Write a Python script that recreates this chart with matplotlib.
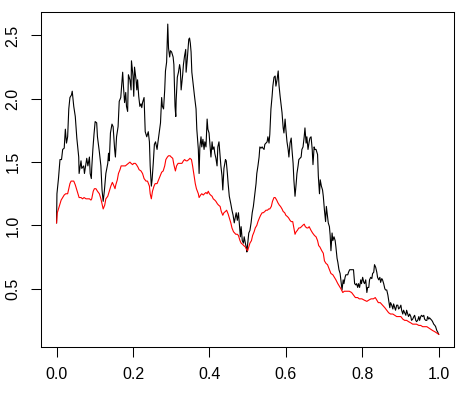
import matplotlib
matplotlib.use("Agg")
import matplotlib.pyplot as plt

# black path
black_t = [0.000, 0.001, 0.005, 0.009, 0.013, 0.016, 0.020, 0.023, 0.026, 0.029,
           0.032, 0.035, 0.039, 0.041, 0.045, 0.049, 0.053, 0.058, 0.059, 0.064,
           0.066, 0.071, 0.073, 0.077, 0.079, 0.082, 0.086, 0.088, 0.091, 0.092,
           0.095, 0.098, 0.101, 0.105, 0.107, 0.112, 0.116, 0.119, 0.122, 0.125,
           0.129, 0.134, 0.136, 0.138, 0.141, 0.145, 0.148, 0.152, 0.154, 0.157,
           0.161, 0.164, 0.168, 0.173, 0.175, 0.178, 0.181, 0.183, 0.186, 0.188,
           0.192, 0.195, 0.196, 0.200, 0.202, 0.204, 0.208, 0.210, 0.212, 0.215,
           0.218, 0.221, 0.223, 0.225, 0.229, 0.230, 0.232, 0.236, 0.240, 0.243,
           0.245, 0.248, 0.250, 0.253, 0.256, 0.259, 0.263, 0.265, 0.269, 0.272,
           0.275, 0.277, 0.280, 0.283, 0.285, 0.288, 0.291, 0.293, 0.296, 0.298,
           0.301, 0.305, 0.307, 0.310, 0.312, 0.313, 0.316, 0.319, 0.322, 0.324,
           0.326, 0.330, 0.332, 0.335, 0.338, 0.339, 0.342, 0.346, 0.348, 0.350,
           0.352, 0.354, 0.358, 0.361, 0.365, 0.367, 0.371, 0.373, 0.375, 0.378,
           0.380, 0.383, 0.386, 0.388, 0.391, 0.394, 0.396, 0.399, 0.401, 0.404,
           0.407, 0.409, 0.412, 0.414, 0.417, 0.420, 0.422, 0.425, 0.428, 0.430,
           0.433, 0.435, 0.438, 0.442, 0.444, 0.447, 0.449, 0.452, 0.456, 0.459,
           0.462, 0.465, 0.468, 0.470, 0.473, 0.476, 0.478, 0.481, 0.483, 0.486,
           0.489, 0.491, 0.494, 0.497, 0.498, 0.501, 0.503, 0.506, 0.509, 0.512,
           0.515, 0.518, 0.522, 0.524, 0.527, 0.530, 0.532, 0.535, 0.538, 0.540,
           0.543, 0.545, 0.548, 0.551, 0.553, 0.556, 0.558, 0.561, 0.564, 0.566,
           0.569, 0.572, 0.574, 0.577, 0.580, 0.582, 0.585, 0.587, 0.590, 0.593,
           0.595, 0.598, 0.600, 0.603, 0.606, 0.608, 0.611, 0.614, 0.616, 0.619,
           0.621, 0.624, 0.627, 0.629, 0.632, 0.634, 0.637, 0.640, 0.642, 0.645,
           0.648, 0.650, 0.653, 0.655, 0.658, 0.661, 0.663, 0.666, 0.669, 0.671,
           0.674, 0.676, 0.679, 0.683, 0.685, 0.688, 0.690, 0.693, 0.696, 0.698,
           0.701, 0.704, 0.706, 0.709, 0.711, 0.714, 0.716, 0.718, 0.721, 0.723,
           0.726, 0.729, 0.731, 0.734, 0.736, 0.739, 0.742, 0.744, 0.747, 0.750,
           0.752, 0.755, 0.757, 0.762, 0.764, 0.767, 0.771, 0.775, 0.777, 0.780,
           0.783, 0.785, 0.788, 0.790, 0.793, 0.796, 0.798, 0.801, 0.804, 0.806,
           0.809, 0.812, 0.814, 0.817, 0.819, 0.822, 0.825, 0.827, 0.830, 0.832,
           0.835, 0.838, 0.840, 0.843, 0.846, 0.848, 0.851, 0.853, 0.856, 0.859,
           0.861, 0.864, 0.867, 0.869, 0.872, 0.874, 0.877, 0.880, 0.882, 0.885,
           0.887, 0.890, 0.893, 0.895, 0.898, 0.901, 0.903, 0.906, 0.908, 0.911,
           0.914, 0.916, 0.919, 0.921, 0.924, 0.927, 0.929, 0.932, 0.935, 0.937,
           0.940, 0.942, 0.945, 0.948, 0.950, 0.953, 0.955, 0.958, 0.961, 0.963,
           0.966, 0.969, 0.971, 0.974, 0.976, 0.979, 0.982, 0.984, 0.987, 0.990,
           0.992, 0.995, 0.997, 1.000]
black_v = [1.02, 1.25, 1.37, 1.52, 1.52, 1.60, 1.61, 1.76, 1.65, 1.70,
           1.92, 2.01, 2.03, 2.06, 1.94, 1.86, 1.69, 1.54, 1.41, 1.51,
           1.45, 1.47, 1.41, 1.49, 1.53, 1.47, 1.54, 1.41, 1.37, 1.45,
           1.60, 1.72, 1.82, 1.81, 1.70, 1.58, 1.47, 1.28, 1.19, 1.27,
           1.41, 1.49, 1.57, 1.51, 1.73, 1.80, 1.78, 1.60, 1.54, 1.70,
           1.78, 1.98, 2.01, 2.21, 2.10, 1.97, 2.05, 1.94, 1.90, 2.19,
           2.15, 2.07, 2.30, 2.18, 2.02, 2.25, 2.15, 2.07, 2.15, 2.02,
           1.94, 1.96, 1.93, 1.97, 2.01, 1.92, 1.74, 1.70, 1.74, 1.66,
           1.47, 1.31, 1.36, 1.49, 1.64, 1.66, 1.60, 1.65, 1.74, 1.81,
           2.01, 1.94, 1.92, 2.07, 2.22, 2.29, 2.59, 2.40, 2.33, 2.38,
           2.37, 2.33, 2.27, 1.94, 1.86, 1.99, 2.17, 2.21, 2.27, 2.23,
           2.07, 2.19, 2.27, 2.34, 2.39, 2.21, 2.31, 2.47, 2.48, 2.44,
           2.37, 2.21, 2.10, 2.02, 1.92, 1.76, 1.60, 1.41, 1.62, 1.70,
           1.62, 1.68, 1.60, 1.66, 1.62, 1.84, 1.76, 1.73, 1.65, 1.54,
           1.66, 1.60, 1.62, 1.57, 1.53, 1.47, 1.62, 1.66, 1.54, 1.47,
           1.39, 1.28, 1.45, 1.52, 1.51, 1.41, 1.33, 1.23, 1.17, 1.12,
           1.08, 1.02, 1.07, 1.10, 1.04, 1.10, 1.02, 0.91, 0.99, 0.88,
           0.86, 0.91, 0.86, 0.82, 0.79, 0.88, 0.94, 0.96, 1.02, 1.10,
           1.15, 1.23, 1.33, 1.41, 1.47, 1.54, 1.62, 1.61, 1.62, 1.61,
           1.60, 1.64, 1.65, 1.66, 1.70, 1.65, 1.72, 1.92, 2.02, 2.10,
           2.17, 2.18, 2.10, 2.15, 2.22, 2.11, 2.02, 1.97, 1.89, 1.77,
           1.73, 1.84, 1.76, 1.66, 1.60, 1.54, 1.65, 1.69, 1.60, 1.49,
           1.36, 1.23, 1.33, 1.41, 1.47, 1.52, 1.53, 1.54, 1.60, 1.62,
           1.70, 1.77, 1.65, 1.70, 1.60, 1.66, 1.69, 1.70, 1.60, 1.48,
           1.62, 1.60, 1.60, 1.56, 1.39, 1.25, 1.36, 1.31, 1.28, 1.23,
           1.12, 1.03, 1.15, 1.07, 1.02, 0.99, 0.92, 0.80, 0.94, 0.88,
           0.91, 0.88, 0.83, 0.74, 0.71, 0.65, 0.62, 0.57, 0.49, 0.57,
           0.54, 0.59, 0.61, 0.61, 0.63, 0.65, 0.65, 0.65, 0.65, 0.54,
           0.53, 0.54, 0.51, 0.54, 0.51, 0.57, 0.54, 0.59, 0.55, 0.54,
           0.57, 0.47, 0.51, 0.51, 0.57, 0.59, 0.58, 0.62, 0.63, 0.69,
           0.67, 0.63, 0.59, 0.57, 0.59, 0.55, 0.58, 0.57, 0.54, 0.50,
           0.49, 0.49, 0.45, 0.41, 0.35, 0.39, 0.37, 0.34, 0.38, 0.35,
           0.33, 0.37, 0.37, 0.34, 0.35, 0.37, 0.33, 0.30, 0.33, 0.31,
           0.29, 0.33, 0.30, 0.28, 0.30, 0.28, 0.25, 0.26, 0.28, 0.29,
           0.25, 0.24, 0.25, 0.28, 0.25, 0.28, 0.29, 0.28, 0.29, 0.26,
           0.25, 0.25, 0.28, 0.26, 0.27, 0.26, 0.25, 0.24, 0.22, 0.21,
           0.20, 0.17, 0.16, 0.14]

# red, smoother path
red_t = [0.000, 0.002, 0.005, 0.009, 0.012, 0.016, 0.020, 0.024, 0.029, 0.032,
         0.035, 0.038, 0.042, 0.045, 0.049, 0.052, 0.056, 0.059, 0.064, 0.068,
         0.072, 0.077, 0.081, 0.086, 0.090, 0.092, 0.096, 0.099, 0.103, 0.107,
         0.112, 0.116, 0.119, 0.122, 0.126, 0.129, 0.134, 0.138, 0.142, 0.146,
         0.149, 0.153, 0.155, 0.159, 0.162, 0.166, 0.169, 0.175, 0.180, 0.184,
         0.188, 0.192, 0.195, 0.199, 0.202, 0.206, 0.209, 0.213, 0.216, 0.221,
         0.225, 0.229, 0.234, 0.238, 0.243, 0.245, 0.248, 0.251, 0.255, 0.258,
         0.263, 0.267, 0.271, 0.275, 0.279, 0.283, 0.286, 0.290, 0.293, 0.297,
         0.300, 0.304, 0.307, 0.311, 0.314, 0.318, 0.321, 0.325, 0.328, 0.332,
         0.335, 0.339, 0.342, 0.346, 0.349, 0.353, 0.356, 0.360, 0.363, 0.366,
         0.371, 0.373, 0.377, 0.380, 0.384, 0.387, 0.391, 0.394, 0.397, 0.400,
         0.403, 0.407, 0.410, 0.414, 0.417, 0.421, 0.424, 0.428, 0.431, 0.435,
         0.438, 0.442, 0.445, 0.449, 0.452, 0.456, 0.459, 0.463, 0.466, 0.469,
         0.473, 0.476, 0.480, 0.483, 0.487, 0.490, 0.494, 0.497, 0.500, 0.503,
         0.506, 0.510, 0.513, 0.517, 0.520, 0.524, 0.527, 0.531, 0.534, 0.538,
         0.541, 0.545, 0.548, 0.552, 0.555, 0.558, 0.562, 0.565, 0.569, 0.572,
         0.576, 0.579, 0.583, 0.586, 0.590, 0.593, 0.597, 0.600, 0.604, 0.607,
         0.611, 0.614, 0.618, 0.621, 0.624, 0.627, 0.630, 0.634, 0.637, 0.641,
         0.644, 0.648, 0.651, 0.655, 0.658, 0.661, 0.666, 0.670, 0.675, 0.679,
         0.683, 0.686, 0.689, 0.694, 0.698, 0.701, 0.705, 0.709, 0.714, 0.718,
         0.723, 0.727, 0.731, 0.736, 0.740, 0.744, 0.749, 0.753, 0.757, 0.766,
         0.772, 0.777, 0.782, 0.788, 0.792, 0.799, 0.805, 0.812, 0.817, 0.823,
         0.829, 0.834, 0.838, 0.842, 0.847, 0.853, 0.859, 0.864, 0.869, 0.874,
         0.880, 0.885, 0.890, 0.895, 0.901, 0.906, 0.911, 0.916, 0.921, 0.927,
         0.932, 0.937, 0.942, 0.948, 0.953, 0.958, 0.963, 0.969, 0.974, 0.979,
         0.984, 0.990, 0.995, 1.000]
red_v = [1.02, 1.10, 1.13, 1.17, 1.20, 1.22, 1.24, 1.25, 1.25, 1.29,
         1.33, 1.35, 1.35, 1.35, 1.32, 1.29, 1.25, 1.22, 1.22, 1.21,
         1.22, 1.21, 1.21, 1.21, 1.20, 1.21, 1.27, 1.29, 1.29, 1.27,
         1.25, 1.21, 1.17, 1.13, 1.16, 1.21, 1.23, 1.27, 1.31, 1.34,
         1.32, 1.29, 1.32, 1.36, 1.41, 1.44, 1.47, 1.47, 1.47, 1.48,
         1.49, 1.50, 1.49, 1.48, 1.49, 1.49, 1.48, 1.46, 1.44, 1.43,
         1.41, 1.37, 1.35, 1.35, 1.31, 1.25, 1.21, 1.27, 1.31, 1.33,
         1.33, 1.36, 1.39, 1.42, 1.43, 1.47, 1.52, 1.54, 1.55, 1.55,
         1.54, 1.53, 1.48, 1.43, 1.47, 1.49, 1.49, 1.49, 1.49, 1.51,
         1.52, 1.51, 1.51, 1.52, 1.53, 1.52, 1.47, 1.39, 1.33, 1.29,
         1.25, 1.22, 1.24, 1.25, 1.24, 1.25, 1.26, 1.25, 1.27, 1.25,
         1.24, 1.23, 1.21, 1.20, 1.19, 1.17, 1.16, 1.15, 1.11, 1.08,
         1.10, 1.11, 1.12, 1.09, 1.06, 1.02, 0.98, 0.95, 0.94, 0.93,
         0.93, 0.92, 0.88, 0.86, 0.85, 0.84, 0.83, 0.81, 0.80, 0.83,
         0.86, 0.88, 0.92, 0.95, 0.98, 1.00, 1.03, 1.06, 1.08, 1.10,
         1.10, 1.11, 1.12, 1.12, 1.13, 1.13, 1.15, 1.19, 1.22, 1.22,
         1.20, 1.18, 1.16, 1.15, 1.13, 1.11, 1.10, 1.08, 1.07, 1.06,
         1.04, 1.03, 1.03, 0.98, 0.93, 0.95, 0.96, 0.98, 0.98, 0.99,
         1.00, 1.01, 0.99, 0.98, 0.98, 0.99, 0.96, 0.94, 0.92, 0.91,
         0.88, 0.84, 0.83, 0.80, 0.78, 0.72, 0.70, 0.69, 0.65, 0.62,
         0.61, 0.59, 0.57, 0.54, 0.52, 0.50, 0.47, 0.48, 0.48, 0.48,
         0.47, 0.45, 0.43, 0.43, 0.42, 0.42, 0.41, 0.40, 0.41, 0.42,
         0.42, 0.43, 0.41, 0.39, 0.39, 0.37, 0.35, 0.33, 0.31, 0.30,
         0.30, 0.29, 0.28, 0.28, 0.28, 0.26, 0.25, 0.25, 0.24, 0.23,
         0.22, 0.22, 0.22, 0.21, 0.21, 0.20, 0.20, 0.20, 0.19, 0.18,
         0.17, 0.16, 0.15, 0.14]

x_ticks = [0.0, 0.2, 0.4, 0.6, 0.8, 1.0]
y_ticks = [0.5, 1.0, 1.5, 2.0, 2.5]

plt.rcParams['font.family'] = ['Liberation Sans', 'DejaVu Sans']

fig = plt.figure(figsize=(4.69, 3.96), dpi=100)
ax = fig.add_axes([0.088, 0.1245, 0.880, 0.846])

ax.plot(black_t, black_v, color='black', lw=0.8)
ax.plot(red_t, red_v, color='red', lw=0.8)
ax.margins(x=0.04, y=0.04)

ax.set_xticks(x_ticks)
ax.set_xticklabels(['%.1f' % v for v in x_ticks])
ax.set_yticks(y_ticks)
ax.set_yticklabels(['%.1f' % v for v in y_ticks], rotation=90, va='center')
ax.tick_params(direction='out', length=6.9, width=0.75, labelsize=11.5,
               colors='black', pad=8)
for s in ax.spines.values():
    s.set_linewidth(0.75)

fig.savefig('out.png', dpi=100)
